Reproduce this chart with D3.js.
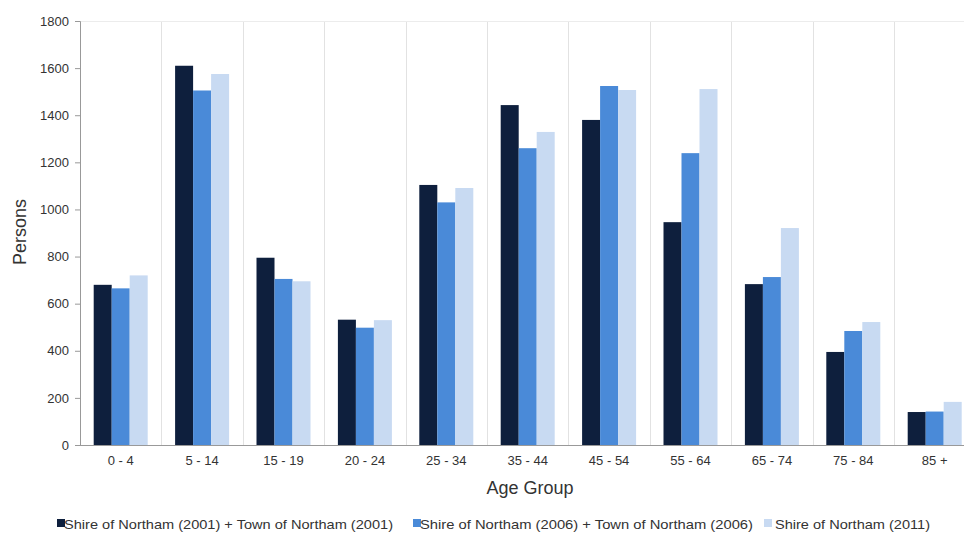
<!DOCTYPE html>
<html><head><meta charset="utf-8">
<script src="https://cdn.jsdelivr.net/npm/d3@7"></script>
<style>body{margin:0;background:#fff;}text{font-family:"Liberation Sans",Arial,sans-serif;}</style>
</head><body>
<svg id="c" width="964" height="533"></svg>
<script>
const categories = ["0 - 4","5 - 14","15 - 19","20 - 24","25 - 34","35 - 44","45 - 54","55 - 64","65 - 74","75 - 84","85 +"];
const seriesNames = ["Shire of Northam (2001) + Town of Northam (2001)","Shire of Northam (2006) + Town of Northam (2006)","Shire of Northam (2011)"];
const s2001 = [680,1610,795,532,1104,1443,1380,946,683,395,140];
const s2006 = [665,1505,705,498,1030,1260,1524,1239,713,484,142];
const s2011 = [720,1575,695,530,1091,1329,1507,1511,921,522,183];
const yTicks = [0,200,400,600,800,1000,1200,1400,1600,1800];
const colors = ["#0e1f3d","#4a8ad8","#c8daf2"];

(function(){
const svg = d3.select("#c");
const mLeft = 80, mTop = 21, mBottom = 445, bandW = 81.4;
const FONT = '"Liberation Sans",Arial,sans-serif';
const x = d3.scaleBand().domain(categories).range([mLeft, mLeft + bandW*categories.length]).paddingInner(0).paddingOuter(0);
const xs = d3.scaleBand().domain([0,1,2]).range([0, 54]);
const y = d3.scaleLinear().domain([0,1800]).range([mBottom, mTop]);

svg.append("g").selectAll("line").data(categories.slice(1)).join("line")
  .attr("x1", d => Math.round(x(d))+0.5).attr("x2", d => Math.round(x(d))+0.5)
  .attr("y1", mTop).attr("y2", mBottom)
  .attr("stroke", "#e2e2e2").attr("stroke-width", 1);
svg.append("line").attr("x1", mLeft).attr("x2", 964).attr("y1", y(1800)+0.5).attr("y2", y(1800)+0.5)
  .attr("stroke", "#ececec");

const series = [s2001, s2006, s2011];
const g = svg.append("g");
series.forEach((vals, si) => {
  g.append("g").selectAll("rect").data(vals).join("rect")
    .attr("x", (d,i) => x(categories[i]) + (bandW-54)/2 + xs(si))
    .attr("width", xs.bandwidth())
    .attr("y", d => y(d))
    .attr("height", d => mBottom - y(d))
    .attr("fill", colors[si]);
});

const ya = svg.append("g").attr("transform", `translate(${mLeft},0)`)
  .call(d3.axisLeft(y).tickValues(yTicks).tickSize(5).tickPadding(6).tickFormat(d3.format("d")));
ya.select(".domain").attr("stroke", "#999");
ya.selectAll(".tick line").attr("stroke", "#999");
ya.selectAll("text").attr("font-size", 13).attr("fill", "#333").style("font-family", FONT);

const xa = svg.append("g").attr("transform", `translate(0,${mBottom})`)
  .call(d3.axisBottom(x).tickSize(0).tickPadding(11));
xa.select(".domain").attr("stroke", "#999").attr("d", `M${mLeft},0.5H964`);
xa.selectAll("text").attr("font-size", 13).attr("fill", "#333").style("font-family", FONT);

svg.append("text").attr("transform", "translate(26,232) rotate(-90)").attr("text-anchor", "middle")
  .attr("font-size", 18).attr("fill", "#333").text("Persons");
svg.append("text").attr("x", 530).attr("y", 494).attr("text-anchor", "middle")
  .attr("font-size", 18).attr("fill", "#333").text("Age Group");

const legendX = [57, 413, 764];
const legendTextX = [64, 420, 775];
const legendW = [329, 333, 155];
const lg = svg.append("g");
seriesNames.forEach((n, i) => {
  lg.append("rect").attr("x", legendX[i]).attr("y", 519).attr("width", 8).attr("height", 8).attr("fill", colors[i]);
  lg.append("text").attr("x", legendTextX[i]).attr("y", 529).attr("font-size", 13.5).attr("fill", "#333")
    .attr("textLength", legendW[i]).attr("lengthAdjust", "spacingAndGlyphs").text(n);
});
})();
</script>
</body></html>
